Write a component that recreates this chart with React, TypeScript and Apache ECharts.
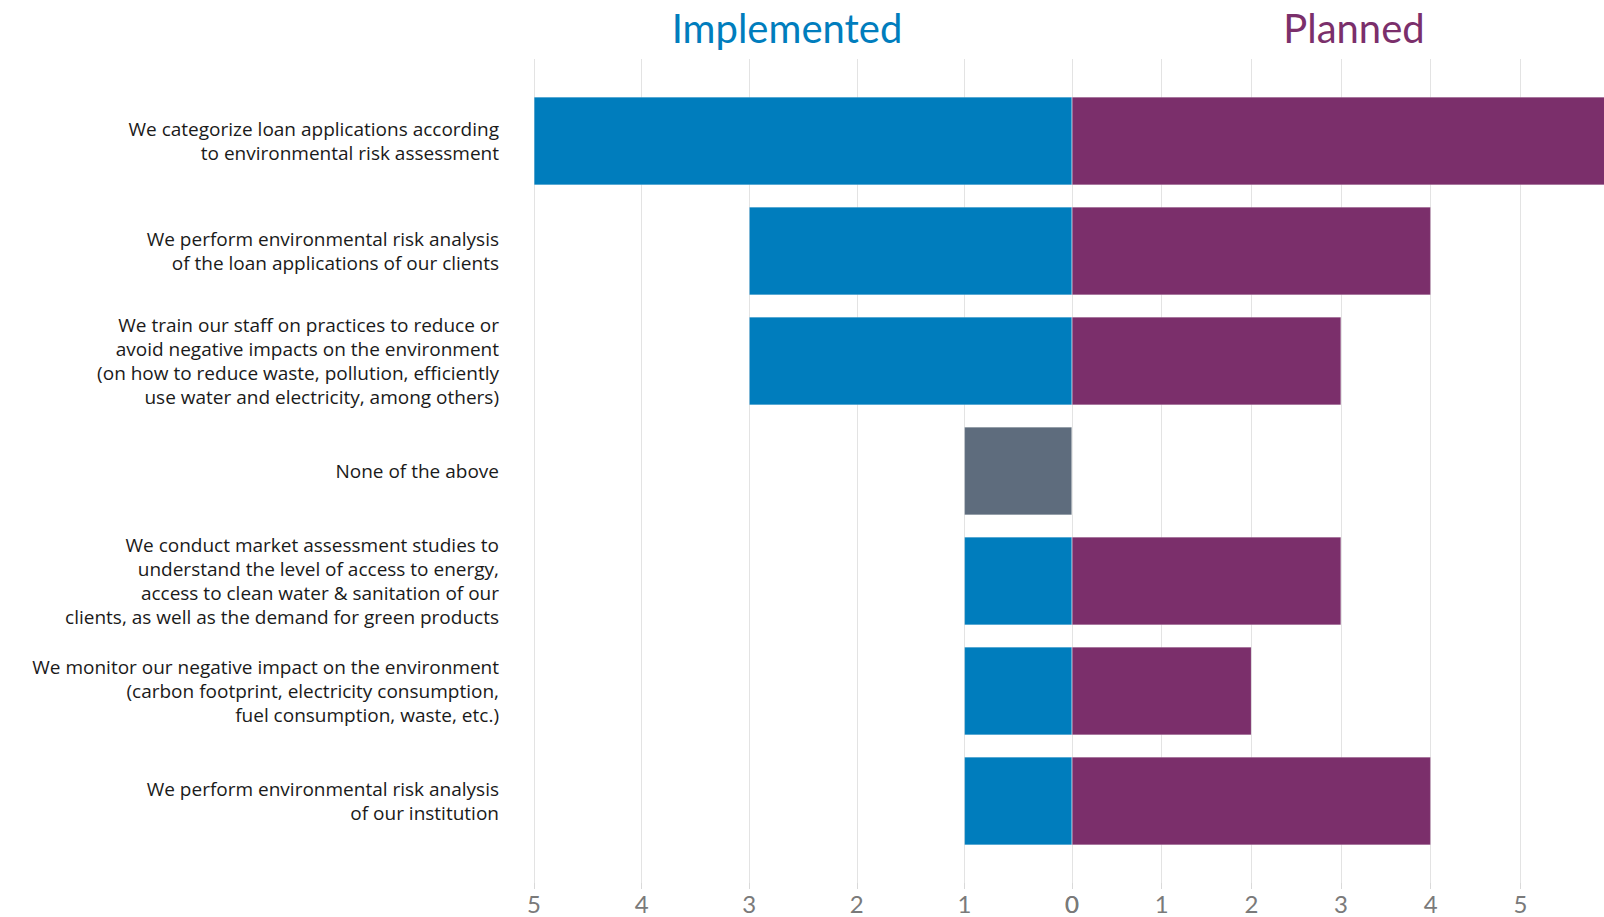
import React, { useEffect, useRef } from "react";
import * as echarts from "echarts";

const categories = [
  "We categorize loan applications according\nto environmental risk assessment",
  "We perform environmental risk analysis\nof the loan applications of our clients",
  "We train our staff on practices to reduce or\navoid negative impacts on the environment\n(on how to reduce waste, pollution, efficiently\nuse water and electricity, among others)",
  "None of the above",
  "We conduct market assessment studies to\nunderstand the level of access to energy,\naccess to clean water & sanitation of our\nclients, as well as the demand for green products",
  "We monitor our negative impact on the environment\n(carbon footprint, electricity consumption,\nfuel consumption, waste, etc.)",
  "We perform environmental risk analysis\nof our institution",
];
const implemented = [5, 3, 3, 1, 1, 1, 1];
const planned = [6, 4, 3, 0, 3, 2, 4];
const highlightIndex = 3; // "None of the above" drawn in grey

const BLUE = "#007dbd";
const PURPLE = "#7b2f6b";
const GREY = "#5e6c7d";
const FONT = "Lato";
const LABEL_FONT = "Open Sans";

export default function App() {
  const ref = useRef<HTMLDivElement>(null);
  useEffect(() => {
    document.body.style.margin = "0";
    const chart = echarts.init(ref.current!, undefined, { renderer: "svg" });
    const axisGridX = (inverse: boolean, max: number, gi: number, showMax: boolean) => ({
      type: "value",
      gridIndex: gi,
      min: 0,
      max,
      interval: 1,
      inverse,
      axisLine: { show: false },
      axisTick: { show: true, length: 6, lineStyle: { color: "#d9d9d9" } },
      splitLine: { show: true, lineStyle: { color: "#e3e3e3", width: 1 } },
      axisLabel: {
        color: "#7a7a7a",
        fontSize: 24,
        fontFamily: FONT,
        margin: 8,
        showMaxLabel: showMax,
      },
    });
    const g = (o: any) => ({ ...o, outerBoundsMode: "none", containLabel: false });
    chart.setOption({
      animation: false,
      backgroundColor: "#ffffff",
      textStyle: { fontFamily: FONT },
      grid: [
        g({ left: 534, right: 532, top: 86, bottom: 61 }),
        g({ left: 1072, right: -6, top: 86, bottom: 61 }),
        g({ left: 534, right: 532, top: 59, bottom: 34 }),
        g({ left: 1072, right: -6, top: 59, bottom: 34 }),
      ],
      xAxis: [
        { type: "value", gridIndex: 0, min: 0, max: 5, inverse: true, show: false },
        { type: "value", gridIndex: 1, min: 0, max: 6, show: false },
        axisGridX(true, 5, 2, true),
        axisGridX(false, 6, 3, false),
      ],
      yAxis: [
        {
          type: "category",
          gridIndex: 0,
          inverse: true,
          data: categories,
          axisLine: { show: false },
          axisTick: { show: false },
          axisLabel: {
            color: "#1a1a1a",
            fontSize: 19,
            fontFamily: LABEL_FONT,
            lineHeight: 24,
            align: "right",
            margin: 35,
          },
        },
        { type: "category", gridIndex: 1, inverse: true, data: categories, show: false },
        { type: "value", gridIndex: 2, min: 0, max: 1, show: false },
        { type: "value", gridIndex: 3, min: 0, max: 1, show: false },
      ],
      series: [
        {
          name: "Implemented",
          type: "bar",
          xAxisIndex: 0,
          yAxisIndex: 0,
          barCategoryGap: "20%",
          itemStyle: { color: BLUE, borderColor: "rgba(255,255,255,0.35)", borderWidth: 0.5 },
          data: implemented.map((v, i) =>
            i === highlightIndex ? { value: v, itemStyle: { color: GREY } } : v
          ),
        },
        {
          name: "Planned",
          type: "bar",
          xAxisIndex: 1,
          yAxisIndex: 1,
          barCategoryGap: "20%",
          itemStyle: { color: PURPLE, borderColor: "rgba(255,255,255,0.35)", borderWidth: 0.5 },
          data: planned,
        },
      ],
      graphic: [
        {
          type: "text",
          x: 787,
          y: 8,
          style: {
            text: "Implemented",
            fill: BLUE,
            fontSize: 40,
            fontFamily: FONT,
            textAlign: "center",
          },
        },
        {
          type: "text",
          x: 1354,
          y: 8,
          style: {
            text: "Planned",
            fill: PURPLE,
            fontSize: 40,
            fontFamily: FONT,
            textAlign: "center",
          },
        },
      ],
    });
    return () => chart.dispose();
  }, []);
  return <div ref={ref} style={{ width: 1604, height: 917 }} />;
}
